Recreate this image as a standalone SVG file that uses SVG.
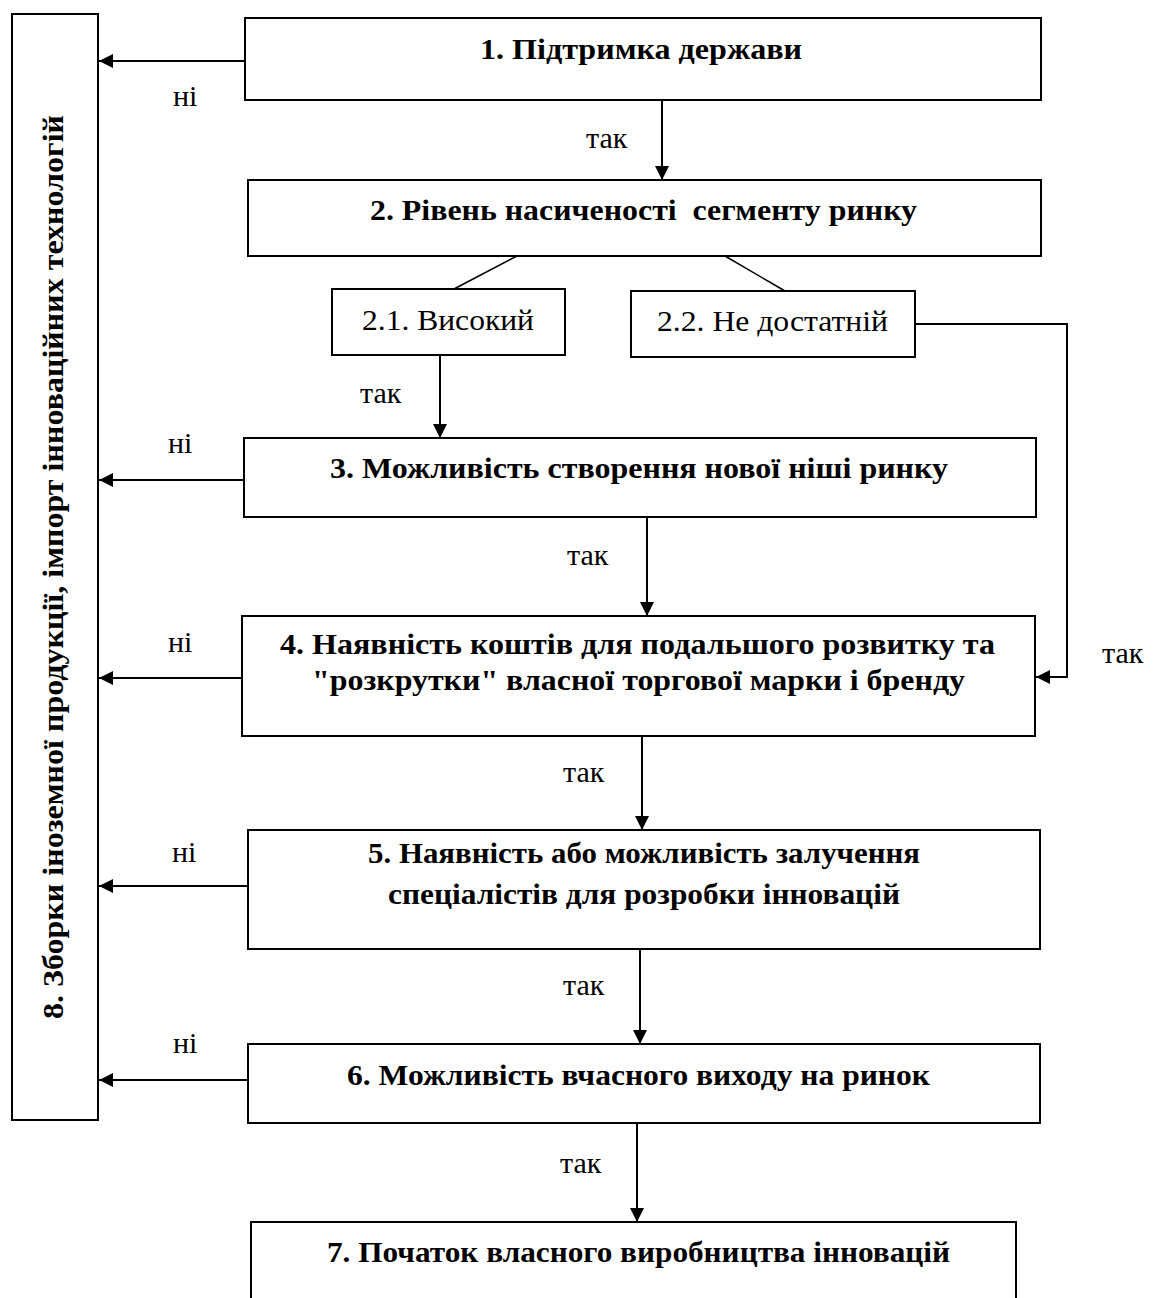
<svg xmlns="http://www.w3.org/2000/svg" width="1159" height="1298" viewBox="0 0 1159 1298">
<style>
.box{fill:#fff;stroke:#000;stroke-width:2}
.b{font-family:"Liberation Serif","Times New Roman",serif;font-weight:bold;font-size:30px;fill:#000}
.r{font-family:"Liberation Serif","Times New Roman",serif;font-size:30px;fill:#000}
.c{fill:none;stroke:#000;stroke-width:2}
.d{fill:none;stroke:#000;stroke-width:1.5}
</style>
<defs>
<marker id="ah" viewBox="0 0 14 14" refX="14" refY="7" markerWidth="14" markerHeight="14" markerUnits="userSpaceOnUse" orient="auto">
<path d="M0,0 L14,7 L0,14 z" fill="#000"/>
</marker>
</defs>
<rect width="1159" height="1298" fill="#fff"/>
<g id="n8"><rect class="box" x="12" y="14" width="86" height="1106"/>
<text class="b" style="font-size:29px" transform="translate(63,567) rotate(-90)" text-anchor="middle" textLength="904" lengthAdjust="spacingAndGlyphs">8. Зборки іноземної продукції, імпорт інноваційних технологій</text></g>
<g id="n1"><rect class="box" x="245" y="18" width="796" height="82"/>
<text class="b" x="480" y="59" textLength="322" lengthAdjust="spacingAndGlyphs">1. Підтримка держави</text></g>
<g id="n2"><rect class="box" x="248" y="180" width="793" height="76"/>
<text class="b" x="370" y="220" xml:space="preserve" textLength="547" lengthAdjust="spacingAndGlyphs">2. Рівень насиченості  сегменту ринку</text></g>
<g id="n21"><rect class="box" x="332" y="289" width="233" height="66"/>
<text class="r" x="362" y="330" textLength="172" lengthAdjust="spacingAndGlyphs">2.1. Високий</text></g>
<g id="n22"><rect class="box" x="631" y="291" width="284" height="66"/>
<text class="r" x="657" y="331" textLength="231" lengthAdjust="spacingAndGlyphs">2.2. Не достатній</text></g>
<g id="n3"><rect class="box" x="244" y="438" width="792" height="79"/>
<text class="b" x="330" y="478" textLength="618" lengthAdjust="spacingAndGlyphs">3. Можливість створення нової ніші ринку</text></g>
<g id="n4"><rect class="box" x="242" y="616" width="793" height="120"/>
<text class="b" x="280" y="654" textLength="715" lengthAdjust="spacingAndGlyphs">4. Наявність коштів для подальшого розвитку та</text>
<text class="b" x="312" y="690" textLength="653" lengthAdjust="spacingAndGlyphs">"розкрутки" власної торгової марки і бренду</text></g>
<g id="n5"><rect class="box" x="248" y="830" width="792" height="119"/>
<text class="b" x="368" y="863" textLength="552" lengthAdjust="spacingAndGlyphs">5. Наявність або можливість залучення</text>
<text class="b" x="388" y="904" textLength="512" lengthAdjust="spacingAndGlyphs">спеціалістів для розробки інновацій</text></g>
<g id="n6"><rect class="box" x="248" y="1044" width="792" height="79"/>
<text class="b" x="347" y="1085" textLength="583" lengthAdjust="spacingAndGlyphs">6. Можливість вчасного виходу на ринок</text></g>
<g id="n7"><rect class="box" x="251" y="1222" width="765" height="100"/>
<text class="b" x="327" y="1262" textLength="623" lengthAdjust="spacingAndGlyphs">7. Початок власного виробництва інновацій</text></g>
<g id="connectors">
<line class="c" x1="245" y1="61" x2="99" y2="61" marker-end="url(#ah)"/>
<line class="c" x1="244" y1="480" x2="99" y2="480" marker-end="url(#ah)"/>
<line class="c" x1="242" y1="678" x2="99" y2="678" marker-end="url(#ah)"/>
<line class="c" x1="248" y1="886" x2="99" y2="886" marker-end="url(#ah)"/>
<line class="c" x1="248" y1="1080" x2="99" y2="1080" marker-end="url(#ah)"/>
<line class="c" x1="662" y1="100" x2="662" y2="180" marker-end="url(#ah)"/>
<line class="d" x1="517" y1="256" x2="454" y2="289"/>
<line class="d" x1="725" y1="256" x2="785" y2="291"/>
<line class="c" x1="440" y1="355" x2="440" y2="438" marker-end="url(#ah)"/>
<polyline class="c" points="915,324 1067,324 1067,677 1036,677" marker-end="url(#ah)"/>
<line class="c" x1="647" y1="517" x2="647" y2="616" marker-end="url(#ah)"/>
<line class="c" x1="642" y1="736" x2="642" y2="830" marker-end="url(#ah)"/>
<line class="c" x1="640" y1="949" x2="640" y2="1044" marker-end="url(#ah)"/>
<line class="c" x1="637" y1="1123" x2="637" y2="1222" marker-end="url(#ah)"/>
<text class="r" x="173" y="106">ні</text>
<text class="r" x="168" y="453">ні</text>
<text class="r" x="168" y="652">ні</text>
<text class="r" x="172" y="862">ні</text>
<text class="r" x="173" y="1053">ні</text>
<text class="r" x="586" y="148">так</text>
<text class="r" x="360" y="403">так</text>
<text class="r" x="567" y="565">так</text>
<text class="r" x="563" y="782">так</text>
<text class="r" x="563" y="995">так</text>
<text class="r" x="560" y="1173">так</text>
<text class="r" x="1102" y="663">так</text>
</g>
</svg>
